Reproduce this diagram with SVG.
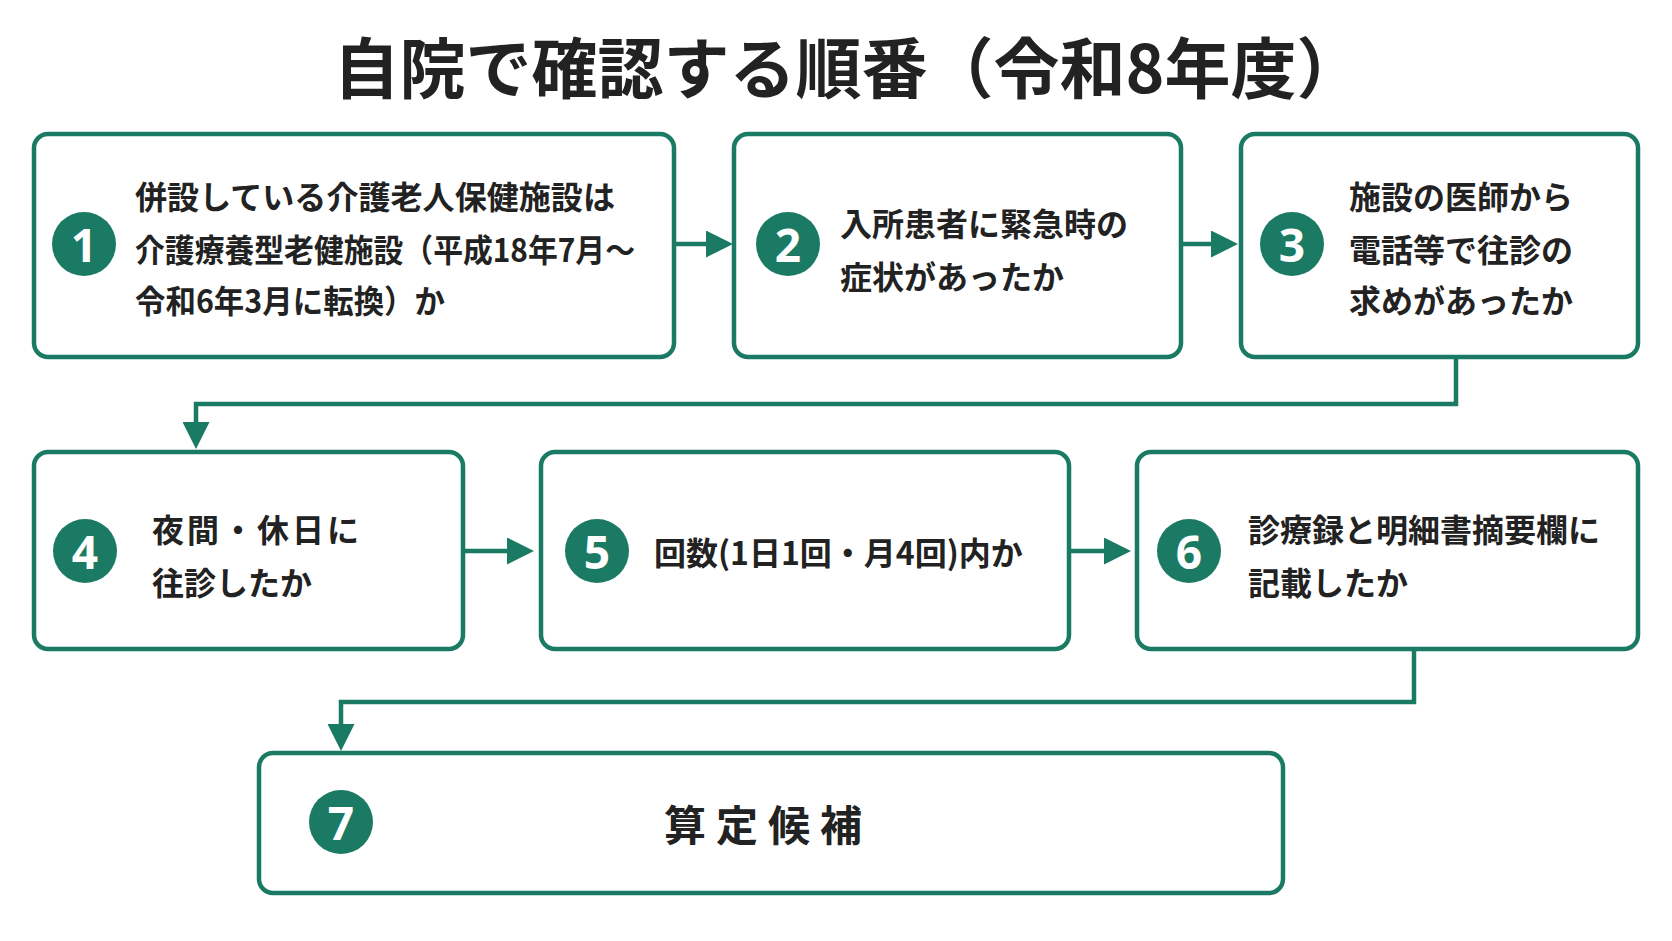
<svg xmlns="http://www.w3.org/2000/svg" width="1672" height="941" viewBox="0 0 1672 941">
<style>
.b{fill:#fff;stroke:#1b7a63;stroke-width:4.5}
.c{fill:#1b7a63}
.n{fill:#fff;font-family:"Noto Sans","Liberation Sans",sans-serif;font-weight:700;font-size:46px;text-anchor:middle;dominant-baseline:central}
.t{fill:#222;font-family:"Noto Sans CJK JP",sans-serif;font-weight:700;font-size:32px;dominant-baseline:central}
.l{fill:none;stroke:#1b7a63;stroke-width:4.5}
</style>
<defs><marker id="a" markerWidth="6" markerHeight="6" refX="4" refY="3" orient="auto"><path d="M0,0L6,3L0,6z" fill="#1b7a63"/></marker></defs>
<rect width="1672" height="941" fill="#fff"/>
<text x="848" y="64" text-anchor="middle" dominant-baseline="central" font-family="Noto Sans CJK JP,sans-serif" font-weight="700" font-size="66" fill="#222">自院で確認する順番（令和8年度）</text>
<g id="n1"><rect class="b" x="34" y="134" width="640" height="223" rx="14"/><circle class="c" cx="84" cy="244" r="32"/><text class="n" x="84" y="244">1</text>
<text class="t" x="135" y="195" textLength="480" lengthAdjust="spacingAndGlyphs">併設している介護老人保健施設は</text><text class="t" x="135" y="248" textLength="500" lengthAdjust="spacingAndGlyphs">介護療養型老健施設（平成18年7月～</text><text class="t" x="135" y="299" textLength="310" lengthAdjust="spacingAndGlyphs">令和6年3月に転換）か</text></g>
<g id="n2"><rect class="b" x="734" y="134" width="447" height="223" rx="14"/><circle class="c" cx="788" cy="244" r="32"/><text class="n" x="788" y="244">2</text>
<text class="t" x="840" y="222">入所患者に緊急時の</text><text class="t" x="840" y="275">症状があったか</text></g>
<g id="n3"><rect class="b" x="1241" y="134" width="397" height="223" rx="14"/><circle class="c" cx="1292" cy="244" r="32"/><text class="n" x="1292" y="244">3</text>
<text class="t" x="1349" y="195">施設の医師から</text><text class="t" x="1349" y="248">電話等で往診の</text><text class="t" x="1349" y="299">求めがあったか</text></g>
<g id="n4"><rect class="b" x="34" y="452" width="429" height="197" rx="14"/><circle class="c" cx="85" cy="551" r="32"/><text class="n" x="85" y="551">4</text>
<text class="t" x="152" y="528" letter-spacing="3">夜間・休日に</text><text class="t" x="152" y="581">往診したか</text></g>
<g id="n5"><rect class="b" x="541" y="452" width="528" height="197" rx="14"/><circle class="c" cx="597" cy="551" r="32"/><text class="n" x="597" y="551">5</text>
<text class="t" x="654" y="551">回数(1日1回・月4回)内か</text></g>
<g id="n6"><rect class="b" x="1137" y="452" width="501" height="197" rx="14"/><circle class="c" cx="1189" cy="551" r="32"/><text class="n" x="1189" y="551">6</text>
<text class="t" x="1248" y="528">診療録と明細書摘要欄に</text><text class="t" x="1248" y="581">記載したか</text></g>
<g id="n7"><rect class="b" x="259" y="753" width="1024" height="140" rx="14"/><circle class="c" cx="341" cy="822" r="32"/><text class="n" x="341" y="822">7</text>
<text class="t" x="768" y="822" text-anchor="middle" style="font-size:42px" letter-spacing="10">算定候補</text></g>
<g id="edges">
<path class="l" d="M674,244H724" marker-end="url(#a)"/>
<path class="l" d="M1181,244H1229" marker-end="url(#a)"/>
<path class="l" d="M1456,357V404H196V440" marker-end="url(#a)"/>
<path class="l" d="M463,551H525" marker-end="url(#a)"/>
<path class="l" d="M1069,551H1122" marker-end="url(#a)"/>
<path class="l" d="M1414,649V702H341V742" marker-end="url(#a)"/>
</g>
</svg>
